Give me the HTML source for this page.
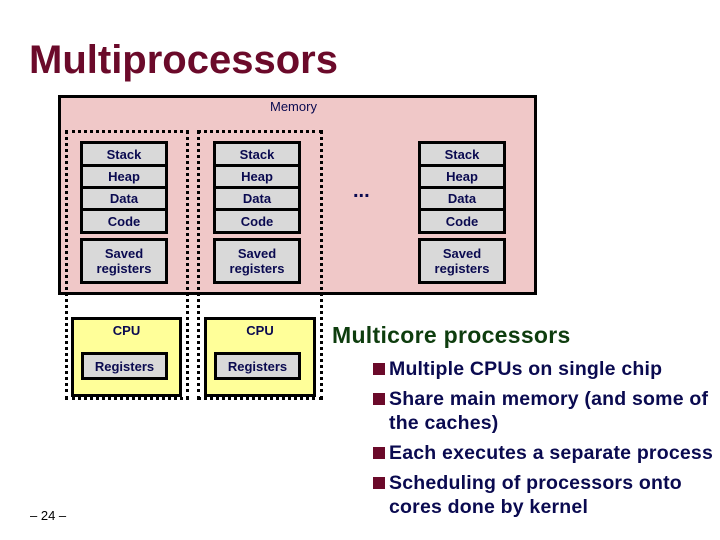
<!DOCTYPE html>
<html><head><style>
body{margin:0;width:720px;height:540px;background:#fff;position:relative;overflow:hidden;font-family:"Liberation Sans",Arial,sans-serif}
.a{position:absolute;box-sizing:border-box}
.seg{position:absolute;box-sizing:border-box;background:#d9d9d9;border:3px solid #000;color:#0a0a50;font-size:13px;font-weight:bold;text-align:center;display:flex;align-items:center;justify-content:center;line-height:15px}
.dot{position:absolute;box-sizing:border-box;border:3px dotted #000}
.cpu{position:absolute;box-sizing:border-box;background:#ffff99;border:3px solid #000;color:#0a0a50;font-size:13px;font-weight:bold;text-align:center}
.bl{position:absolute;left:372px;font-size:19.5px;font-weight:bold;color:#0a0a50;line-height:24px;letter-spacing:0.2px}
.sq{position:absolute;left:372px;width:12px;height:12px;background:#6b0a2a}
</style></head><body>
<div class="a" style="left:29px;top:38px;font-size:40px;font-weight:bold;color:#6b0a2a">Multiprocessors</div>
<div class="a" style="left:58px;top:95px;width:479px;height:200px;background:#f0c8c8;border:3px solid #000"></div>
<div class="a" style="left:270px;top:99px;font-size:13px;color:#0a0a50">Memory</div>
<div class="dot" style="left:65px;top:130px;width:124px;height:270px;border-width:3px"></div>
<div class="dot" style="left:197px;top:130px;width:126px;height:270px"></div>

<div class="seg" style="left:80px;top:141px;width:88px;height:26px">Stack</div>
<div class="seg" style="left:80px;top:164px;width:88px;height:25px">Heap</div>
<div class="seg" style="left:80px;top:186px;width:88px;height:25px">Data</div>
<div class="seg" style="left:80px;top:208px;width:88px;height:26px">Code</div>
<div class="seg" style="left:80px;top:238px;width:88px;height:46px">Saved<br>registers</div>

<div class="seg" style="left:213px;top:141px;width:88px;height:26px">Stack</div>
<div class="seg" style="left:213px;top:164px;width:88px;height:25px">Heap</div>
<div class="seg" style="left:213px;top:186px;width:88px;height:25px">Data</div>
<div class="seg" style="left:213px;top:208px;width:88px;height:26px">Code</div>
<div class="seg" style="left:213px;top:238px;width:88px;height:46px">Saved<br>registers</div>

<div class="seg" style="left:418px;top:141px;width:88px;height:26px">Stack</div>
<div class="seg" style="left:418px;top:164px;width:88px;height:25px">Heap</div>
<div class="seg" style="left:418px;top:186px;width:88px;height:25px">Data</div>
<div class="seg" style="left:418px;top:208px;width:88px;height:26px">Code</div>
<div class="seg" style="left:418px;top:238px;width:88px;height:46px">Saved<br>registers</div>

<div class="a" style="left:353px;top:180px;font-size:20px;font-weight:bold;color:#0a0a50">...</div>

<div class="cpu" style="left:71px;top:317px;width:111px;height:80px;padding-top:3px">CPU</div>
<div class="seg" style="left:81px;top:352px;width:87px;height:28px">Registers</div>
<div class="cpu" style="left:204px;top:317px;width:112px;height:80px;padding-top:3px">CPU</div>
<div class="seg" style="left:214px;top:352px;width:87px;height:28px">Registers</div>

<div class="a" style="left:332px;top:322px;font-size:23px;color:#0e3d0e;font-weight:bold;letter-spacing:0.3px">Multicore processors</div>
<div class="sq" style="left:373px;top:363px"></div><div class="bl" style="left:389px;top:357px">Multiple CPUs on single chip</div>
<div class="sq" style="left:373px;top:393px"></div><div class="bl" style="left:389px;top:387px">Share main memory (and some of<br>the caches)</div>
<div class="sq" style="left:373px;top:447px"></div><div class="bl" style="left:389px;top:441px">Each executes a separate process</div>
<div class="sq" style="left:373px;top:477px"></div><div class="bl" style="left:389px;top:471px">Scheduling of processors onto<br>cores done by kernel</div>
<div class="a" style="left:30px;top:508px;font-size:13px;color:#000">– 24 –</div>
</body></html>
